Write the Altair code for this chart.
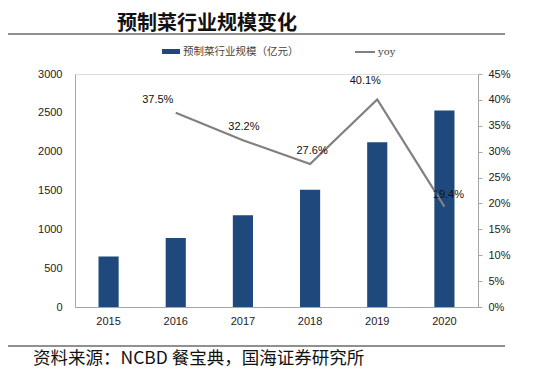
import altair as alt
import pandas as pd

years = ["2015", "2016", "2017", "2018", "2019", "2020"]
scale_values = [650, 890, 1180, 1510, 2120, 2530]
yoy = [None, 0.375, 0.322, 0.276, 0.401, 0.194]
yoy_labels = ["", "37.5%", "32.2%", "27.6%", "40.1%", "19.4%"]

title_text = "预制菜行业规模变化"
legend_bar = "预制菜行业规模（亿元）"
legend_line = "yoy"
source_text = "资料来源：NCBD 餐宝典，国海证券研究所"

df = pd.DataFrame({"year": years, "value": scale_values, "yoy": yoy, "label": yoy_labels})
one = pd.DataFrame({"k": [0]})

W, H = 403, 233
FONT = "Liberation Sans"
CJK = "Noto Sans CJK SC"

x_enc = alt.X("year:N", title=None, sort=years,
              scale=alt.Scale(paddingInner=0.7, paddingOuter=0.35),
              axis=alt.Axis(labelAngle=0, ticks=False, domainColor="#a6a6a6",
                            labelFont=FONT, labelFontSize=11, labelColor="#222",
                            labelPadding=8))

bars = alt.Chart(df).mark_bar(color="#1f497d").encode(
    x=x_enc,
    y=alt.Y("value:Q", title=None,
            scale=alt.Scale(domain=[0, 3000]),
            axis=alt.Axis(values=[0, 500, 1000, 1500, 2000, 2500, 3000], grid=False,
                          format="d", ticks=False, domainColor="#a6a6a6", labelPadding=13,
                          labelFont=FONT, labelFontSize=11, labelColor="#222")),
)

yoy_axis = alt.Axis(orient="right", format=".0%", grid=False,
                    values=[0, 0.05, 0.1, 0.15, 0.2, 0.25, 0.3, 0.35, 0.4, 0.45],
                    tickSize=4, tickColor="#a6a6a6", domainColor="#a6a6a6",
                    labelPadding=6, labelFont=FONT, labelFontSize=11,
                    labelColor="#222")
yoy_scale = alt.Scale(domain=[0, 0.45])

line = alt.Chart(df).transform_filter("datum.yoy != null").mark_line(
    color="#808080", strokeWidth=2.2).encode(
    x=alt.X("year:N", sort=years),
    y=alt.Y("yoy:Q", title=None, scale=yoy_scale, axis=yoy_axis))

def lab(year, dx, dy):
    return alt.Chart(df).transform_filter(f"datum.year == '{year}'").mark_text(
        font=FONT, fontSize=11, color="#111", dx=dx, dy=dy).encode(
        x=alt.X("year:N", sort=years),
        y=alt.Y("yoy:Q", title=None, scale=yoy_scale, axis=yoy_axis),
        text="label:N")

labels = (lab("2016", -18, -13) + lab("2017", 1, -13) + lab("2018", 2, -13)
          + lab("2019", -12, -18) + lab("2020", 4, -12))

main = alt.layer(bars, alt.layer(line, labels)).resolve_scale(y="independent")

title = alt.Chart(one).mark_text(font=CJK, fontSize=20, fontWeight="bold", color="#111",
                                 align="center").encode(
    x=alt.value(132), y=alt.value(-50), text=alt.value(title_text))
top_rule = alt.Chart(one).mark_rule(color="#222", strokeWidth=1.2).encode(
    x=alt.value(-67), x2=alt.value(430), y=alt.value(-40))
bot_rule = alt.Chart(one).mark_rule(color="#222", strokeWidth=1.2).encode(
    x=alt.value(-67), x2=alt.value(430), y=alt.value(272))
source = alt.Chart(one).mark_text(font=CJK, fontSize=17.5, color="#111", align="left").encode(
    x=alt.value(-42), y=alt.value(285), text=alt.value(source_text))

leg_sw = alt.Chart(one).mark_rect(color="#1f497d").encode(
    x=alt.value(87), x2=alt.value(105), y=alt.value(-25), y2=alt.value(-20))
leg_t1 = alt.Chart(one).mark_text(font=CJK, fontSize=10.5, color="#444", align="left").encode(
    x=alt.value(108), y=alt.value(-22), text=alt.value(legend_bar))
leg_ln = alt.Chart(one).mark_rule(color="#808080", strokeWidth=2).encode(
    x=alt.value(280), x2=alt.value(300), y=alt.value(-22))
leg_t2 = alt.Chart(one).mark_text(font="DejaVu Serif", fontSize=10, color="#444", align="left").encode(
    x=alt.value(303), y=alt.value(-22), text=alt.value(legend_line))

chart = alt.layer(main, title, top_rule, bot_rule, source, leg_sw, leg_t1, leg_ln, leg_t2).properties(
    width=W, height=H,
    padding={"left": 67, "top": 66, "right": 51, "bottom": 62},
    autosize=alt.AutoSizeParams(type="none"),
).configure_view(stroke=None).configure(background="white")

chart.save("out.html", embed_options={"renderer": "svg", "actions": False})
